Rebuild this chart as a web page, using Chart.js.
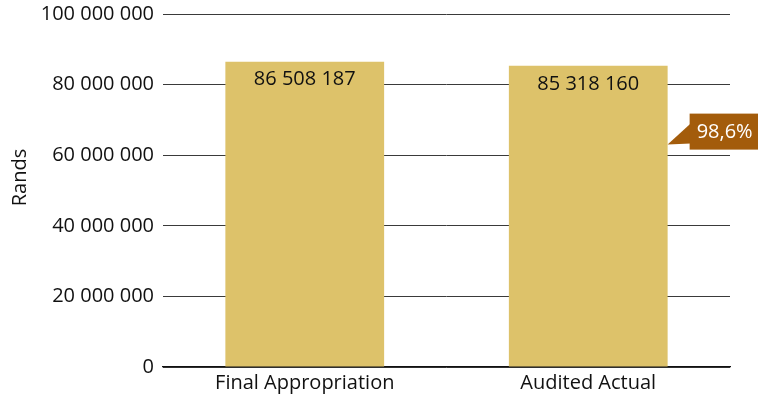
<!DOCTYPE html>
<html>
<head>
<meta charset="utf-8">
<script src="https://cdn.jsdelivr.net/npm/chart.js@4"></script>
<style>
  html, body { margin: 0; padding: 0; background: #fff; }
  #wrap { width: 758px; height: 401px; }
</style>
</head>
<body>
<div id="wrap"><canvas id="barChart"></canvas></div>
<script>
"use strict";

// data
let categories = ["Final Appropriation", "Audited Actual"];
let amounts = [86508187, 85318160];
let yTicks = [0, 20000000, 40000000, 60000000, 80000000, 100000000];
let axisTitle = "Rands";
let calloutValue = 63000000;   // where the callout arrow points on the y axis

const fontName = "'Open Sans', 'Noto Sans', sans-serif";

// 86508187 -> "86 508 187"
function spaced(n) {
    return String(Math.round(n)).replace(/\B(?=(\d{3})+(?!\d))/g, " ");
}

let pct = (amounts[1] / amounts[0] * 100).toFixed(1).replace(".", ",") + "%";

// value labels inside the bars, y title and the brown percentage callout
const barLabels = {
    id: "barLabels",
    afterDatasetsDraw(chart) {
        const ctx = chart.ctx;
        const area = chart.chartArea;
        const bars = chart.getDatasetMeta(0).data;
        ctx.save();
        ctx.font = "20px " + fontName;
        ctx.fillStyle = "#111";
        ctx.textAlign = "center";
        ctx.textBaseline = "middle";
        bars.forEach((bar, i) => {
            ctx.fillText(spaced(amounts[i]), bar.x, bar.y + 18);
        });

        // rotated axis title, sits a bit above the middle like the original
        ctx.save();
        ctx.translate(20, (area.top + area.bottom) / 2 - 13);
        ctx.rotate(-Math.PI / 2);
        ctx.fillText(axisTitle, 0, 0);
        ctx.restore();

        // callout next to second bar
        const last = bars[bars.length - 1];
        const tipX = last.x + last.width / 2;
        const tipY = chart.scales.y.getPixelForValue(calloutValue);
        const boxX = tipX + 22, boxTop = tipY - 31, boxH = 36;
        ctx.fillStyle = "#a35c0b";
        ctx.beginPath();
        ctx.moveTo(tipX, tipY);
        ctx.lineTo(boxX + 1, tipY - 21);
        ctx.lineTo(boxX + 1, tipY - 1);
        ctx.closePath();
        ctx.fill();
        ctx.fillRect(boxX, boxTop, 80, boxH);
        ctx.fillStyle = "#fff";
        ctx.textAlign = "left";
        ctx.font = "20px " + fontName;
        ctx.fillText(pct, boxX + 7, boxTop + boxH / 2 + 1);
        ctx.restore();
    }
};

let data = {
    labels: categories,
    datasets: [{
        data: amounts,
        backgroundColor: "#ddc26a",
        categoryPercentage: 1,
        barPercentage: 0.56
    }]
};

let config = {
    type: "bar",
    data: data,
    options: {
        responsive: false,
        animation: false,
        layout: { padding: { top: 14, right: 28, left: 0, bottom: 0 } },
        plugins: { legend: { display: false }, tooltip: { enabled: false } },
        scales: {
            x: {
                grid: { display: false, drawTicks: false },
                border: { color: "#111", width: 1.3 },
                ticks: { color: "#111", font: { family: fontName, size: 20 }, padding: 4 },
                afterFit(scale) { scale.height = 34; }
            },
            y: {
                min: 0,
                max: 100000000,
                afterBuildTicks(scale) { scale.ticks = yTicks.map(v => ({ value: v })); },
                grid: { color: "#3a3a3a", lineWidth: 1, drawTicks: false },
                border: { display: false },
                ticks: {
                    color: "#111",
                    padding: 9,
                    font: { family: fontName, size: 20 },
                    callback: v => spaced(v)
                },
                afterFit(scale) {
                    scale.width = 163;
                    scale.paddingTop = 0;
                    scale.paddingBottom = 0;
                }
            }
        }
    },
    plugins: [barLabels]
};

const canvas = document.getElementById("barChart");
canvas.width = 758;
canvas.height = 401;
let myChart = new Chart(canvas, config);
</script>
</body>
</html>
